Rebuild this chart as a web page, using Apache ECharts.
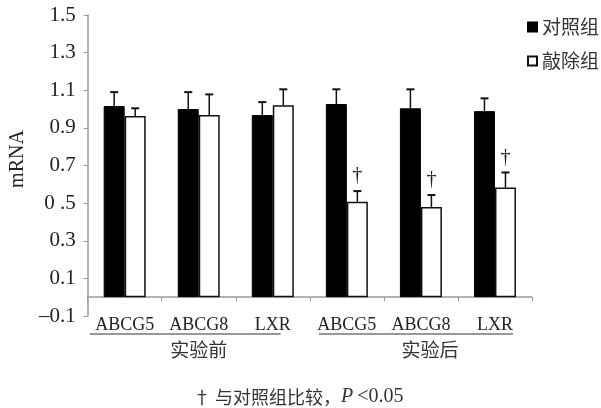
<!DOCTYPE html>
<html><head><meta charset="utf-8">
<script src="https://cdn.jsdelivr.net/npm/echarts@6/dist/echarts.min.js"></script>
<style>html,body{margin:0;padding:0;background:#fff}#c{width:601px;height:408px}</style>
</head><body><div id="c"></div>
<script>
const categories = ['ABCG5','ABCG8','LXR','ABCG5','ABCG8','LXR'];
const groups = ['实验前','实验后'];
const seriesNames = ['对照组','敲除组'];
const controlValues = [1.016, 1.0, 0.968, 1.027, 1.004, 0.989];
const controlErrTop = [1.09, 1.09, 1.037, 1.105, 1.105, 1.057];
const knockoutValues = [0.963, 0.968, 1.02, 0.507, 0.48, 0.583];
const knockoutErrTop = [1.004, 1.078, 1.105, 0.564, 0.543, 0.663];
const significant = [0, 0, 0, 1, 1, 1];
const yTickLabels = ['–0.1','0.1','0.3','0 .5','0.7','0.9','1.1','1.3','1.5'];

const serif = '"Liberation Serif","DejaVu Serif",serif';
const cjk = '"Noto Sans CJK SC",sans-serif';
const BW = 21;

const chart = echarts.init(document.getElementById('c'));

function errRender(vals, tops, offset, sig) {
  return function (params, api) {
    const i = params.dataIndex;
    const base = api.coord([i, vals[i]]);
    const top = api.coord([i, tops[i]]);
    const x = base[0] + offset;
    const children = [
      {type:'line', shape:{x1:x, y1:base[1], x2:x, y2:top[1]}, style:{stroke:'#111', lineWidth:1.5}},
      {type:'line', shape:{x1:x-4, y1:top[1], x2:x+4, y2:top[1]}, style:{stroke:'#111', lineWidth:2}}
    ];
    if (sig && sig[i]) {
      children.push({type:'text', style:{text:'†', x:x, y:top[1]-5, align:'center', verticalAlign:'bottom', font:'20px ' + serif, fill:'#222'}});
    }
    return {type:'group', children};
  };
}

chart.setOption({
  animation: false,
  grid: {left: 86, right: 69, top: 15, bottom: 92},
  title: {
    text: '† 与对照组比较，{i|P} {n|<0.05}',
    left: 188, top: 382,
    textStyle: {fontFamily: cjk, fontSize: 18, fontWeight: 'normal', color: '#333',
      rich: {i: {fontFamily: serif, fontStyle: 'italic', fontSize: 20, color: '#333'},
             n: {fontFamily: serif, fontSize: 20, color: '#333'}}}
  },
  legend: {
    orient: 'vertical', left: 522, top: 12, itemWidth: 9, itemHeight: 9, itemGap: 14,
    icon: 'rect',
    textStyle: {fontFamily: cjk, fontSize: 19, lineHeight: 20, color: '#333'},
    data: seriesNames
  },
  xAxis: [{
    type: 'category', data: categories,
    axisLine: {onZero: true, lineStyle: {color: '#999', width: 1.5}},
    axisTick: {show: true, length: 4, lineStyle: {color: '#999'}},
    axisLabel: {fontFamily: serif, fontSize: 18, color: '#222', margin: 0, interval: 0, hideOverlap: false}
  }],
  yAxis: {
    type: 'value', min: -0.1, max: 1.5, interval: 0.2,
    name: 'mRNA', nameLocation: 'middle', nameGap: 58,
    nameTextStyle: {fontFamily: serif, fontSize: 20, color: '#222', padding: [0, 0, 0, 13]},
    axisLine: {show: true, lineStyle: {color: '#999', width: 1.5}},
    axisTick: {show: true, length: 4, lineStyle: {color: '#999'}},
    splitLine: {show: false},
    axisLabel: {fontFamily: serif, fontSize: 21, color: '#222', margin: 12,
      formatter: v => yTickLabels[Math.round((v + 0.1) / 0.2)] ?? ''}
  },
  series: [
    {name: seriesNames[0], type: 'bar', data: controlValues, barWidth: BW, barGap: '0%',
      itemStyle: {color: '#000', borderColor: '#000', borderWidth: 1}},
    {name: seriesNames[1], type: 'bar', data: knockoutValues, barWidth: BW, barGap: '0%',
      itemStyle: {color: '#fff', borderColor: '#111', borderWidth: 1.5}},
    {type: 'custom', renderItem: errRender(controlValues, controlErrTop, -BW/2, null),
      data: controlValues.map((v,i)=>[i,v]), z: 5, silent: true},
    {type: 'custom', renderItem: errRender(knockoutValues, knockoutErrTop, BW/2, significant),
      data: knockoutValues.map((v,i)=>[i,v]), z: 5, silent: true}
  ]
});

function drawGroups() {
  const els = [];
  const y0 = chart.convertToPixel({yAxisIndex: 0}, -0.1);
  const spans = [[0, 2, -35, 8, 0], [3, 5, -28, 18, 9]];
  spans.forEach((s, gi) => {
    const xa = chart.convertToPixel({xAxisIndex: 0}, s[0]);
    const xb = chart.convertToPixel({xAxisIndex: 0}, s[1]);
    const x1 = xa + s[2], x2 = xb + s[3];
    const ly = y0 + 18;
    els.push({type: 'line', shape: {x1: x1, y1: ly, x2: x2, y2: ly}, style: {stroke: '#333', lineWidth: 1}});
    els.push({type: 'text', style: {text: groups[gi], x: (xa + xb) / 2 + s[4], y: ly + 16, align: 'center', verticalAlign: 'middle',
      font: '19px ' + cjk, fill: '#333'}});
  });
  chart.setOption({graphic: els});
}
drawGroups();
</script></body></html>
